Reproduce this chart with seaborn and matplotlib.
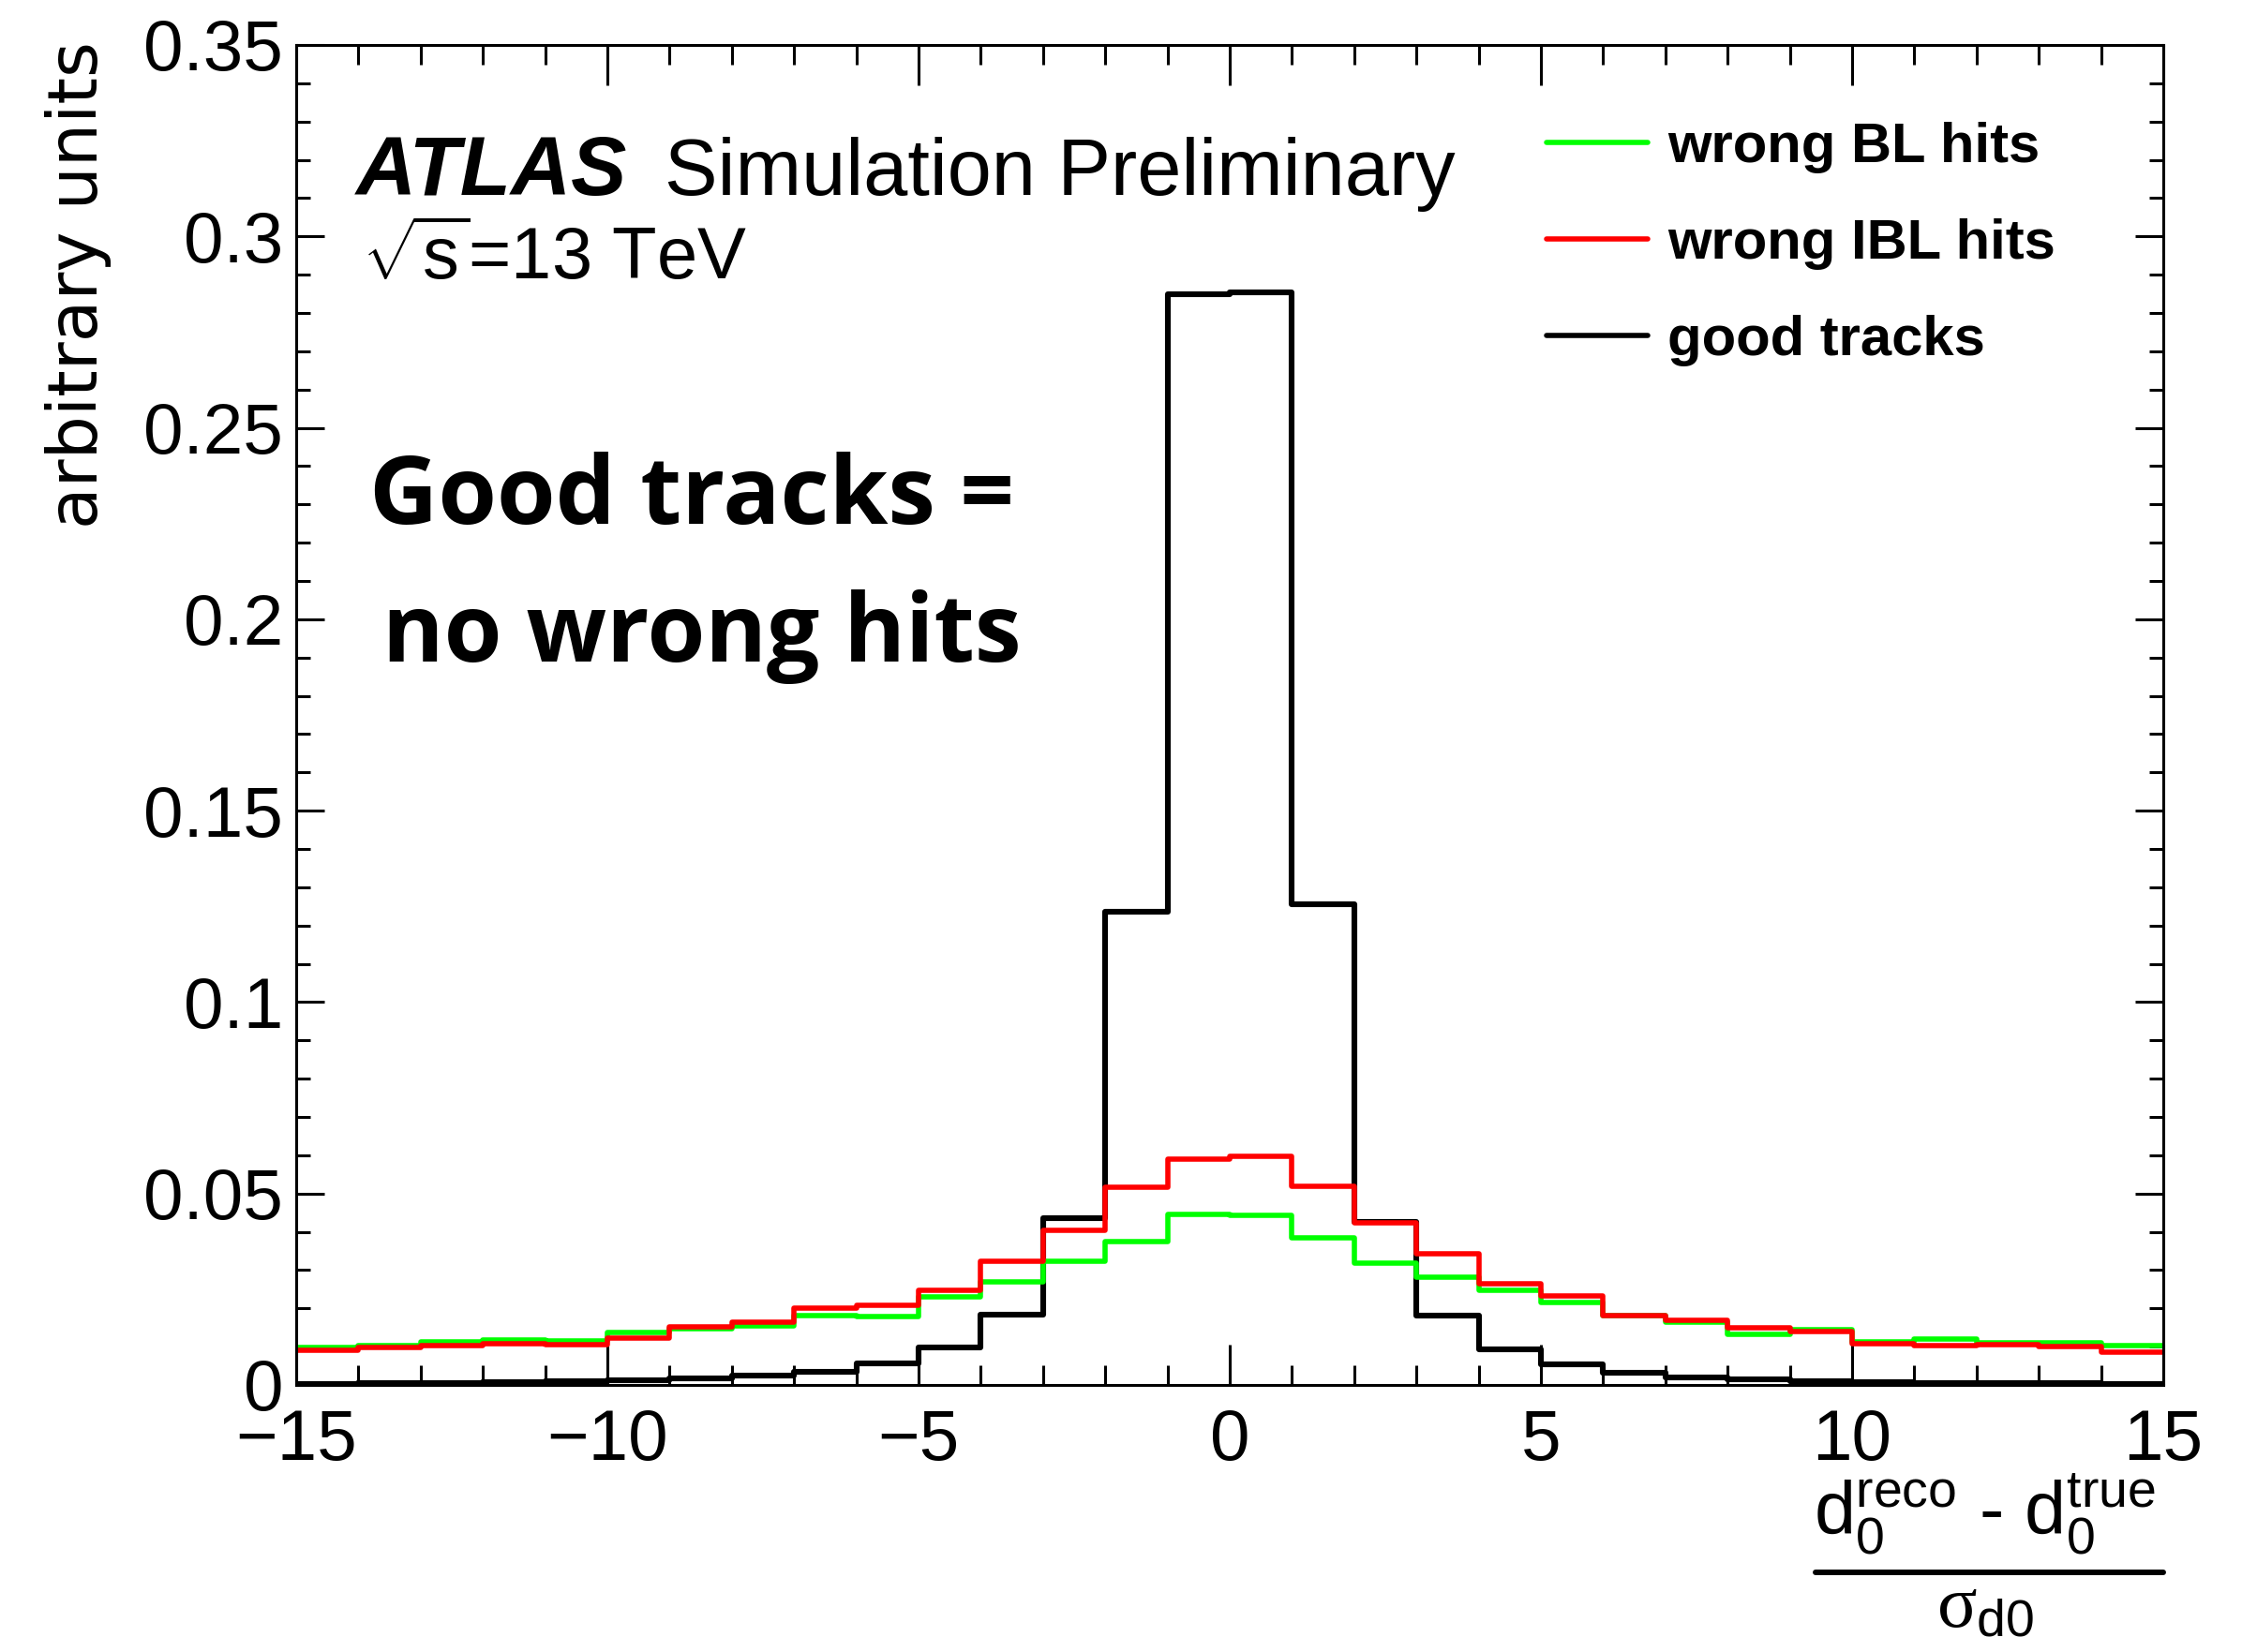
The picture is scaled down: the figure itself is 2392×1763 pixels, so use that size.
import numpy as np
import pandas as pd
import matplotlib
matplotlib.use("Agg")
import matplotlib.pyplot as plt
from matplotlib.ticker import MultipleLocator, FixedLocator, FixedFormatter
from matplotlib.lines import Line2D
import seaborn as sns

# Histogram binning: unit-width bins of the d0 pull
bin_edges = list(range(-15, 16))

# Normalised bin contents (30 bins, from -15 to 15)
good_tracks = [0.0003, 0.0004, 0.0005, 0.0007, 0.0009, 0.0013, 0.0018, 0.0025, 0.0035, 0.0057,
               0.0098, 0.0184, 0.0436, 0.1237, 0.2849,
               0.2855, 0.1255, 0.0426, 0.0182, 0.0094, 0.0055, 0.0033, 0.0020, 0.0015, 0.0011,
               0.0008, 0.0006, 0.0005, 0.0004, 0.0003]
wrong_bl = [0.0098, 0.0103, 0.0113, 0.0118, 0.0114, 0.0137, 0.0147, 0.0153, 0.0182, 0.0179,
            0.0231, 0.0269, 0.0324, 0.0375, 0.0446,
            0.0442, 0.0384, 0.0318, 0.0282, 0.0246, 0.0216, 0.0180, 0.0165, 0.0131, 0.0145,
            0.0112, 0.0121, 0.0110, 0.0111, 0.0103]
wrong_ibl = [0.0091, 0.0098, 0.0103, 0.0107, 0.0106, 0.0122, 0.0151, 0.0164, 0.0200, 0.0208,
             0.0247, 0.0323, 0.0403, 0.0516, 0.0589,
             0.0597, 0.0520, 0.0423, 0.0342, 0.0265, 0.0232, 0.0182, 0.0169, 0.0149, 0.0139,
             0.0107, 0.0104, 0.0106, 0.0100, 0.0085]

series_labels = ["wrong BL hits", "wrong IBL hits", "good tracks"]

x_tick_values = [-15, -10, -5, 0, 5, 10, 15]
x_tick_labels = ["\u221215", "\u221210", "\u22125", "0", "5", "10", "15"]
y_tick_values = [0, 0.05, 0.1, 0.15, 0.2, 0.25, 0.3, 0.35]
y_tick_labels = ["0", "0.05", "0.1", "0.15", "0.2", "0.25", "0.3", "0.35"]

sns.set_style("ticks")
plt.rcParams["font.family"] = ["Liberation Sans", "DejaVu Sans"]
plt.rcParams["text.color"] = "black"
plt.rcParams["axes.labelcolor"] = "black"
plt.rcParams["xtick.color"] = "black"
plt.rcParams["ytick.color"] = "black"
plt.rcParams["axes.edgecolor"] = "black"
plt.rcParams["mathtext.fontset"] = "custom"
plt.rcParams["mathtext.rm"] = "Liberation Sans"
plt.rcParams["mathtext.it"] = "Liberation Serif"
plt.rcParams["mathtext.bf"] = "Liberation Sans:bold"

W, H = 2392, 1763
fig = plt.figure(figsize=(W / 100, H / 100), dpi=100)
ax = fig.add_axes([316 / W, 1 - 1478 / H, (2308 - 316) / W, (1478 - 48) / H])

edges = np.asarray(bin_edges, dtype=float)
centers = 0.5 * (edges[:-1] + edges[1:])
hist_df = pd.DataFrame({"pull": centers, "good": good_tracks,
                        "bl": wrong_bl, "ibl": wrong_ibl})
styles = [("good", "black", 4.4), ("bl", "#00ff00", 4.0), ("ibl", "#ff0000", 4.0)]
for col, color, lw in styles:
    sns.histplot(data=hist_df, x="pull", weights=col, bins=bin_edges, element="step",
                 fill=False, color=color, linewidth=lw, ax=ax)

ax.set_xlim(-15, 15)
ax.set_ylim(0, 0.35)
ax.set_xlabel("")
ax.set_ylabel("")

for s in ax.spines.values():
    s.set_linewidth(2.2)
    s.set_color("black")

ax.xaxis.set_major_locator(FixedLocator(x_tick_values))
ax.xaxis.set_major_formatter(FixedFormatter(x_tick_labels))
ax.xaxis.set_minor_locator(MultipleLocator(1))
ax.yaxis.set_major_locator(FixedLocator(y_tick_values))
ax.yaxis.set_major_formatter(FixedFormatter(y_tick_labels))
ax.yaxis.set_minor_locator(MultipleLocator(0.01))

ax.tick_params(axis="both", which="both", direction="in", top=True, right=True,
               width=2.2, color="black", labelcolor="black")
ax.tick_params(axis="x", which="major", length=31, pad=18, labelsize=55)
ax.tick_params(axis="x", which="minor", length=15)
ax.tick_params(axis="y", which="major", length=21.5, pad=10, labelsize=55)
ax.tick_params(axis="y", which="minor", length=11)

# Legend: green, red, black
handles = [Line2D([], [], color=c, linewidth=4.0) for c in ["#00ff00", "#ff0000", "black"]]
fig.legend(handles, series_labels, loc="upper left",
           bbox_to_anchor=(1650 / W, 1 - 130 / H), frameon=False,
           prop={"family": "Liberation Sans", "weight": "bold", "size": 43},
           handlelength=1.8, handletextpad=0.36, labelspacing=0.8,
           borderpad=0, borderaxespad=0)

# Y axis title
fig.text(84 / W, 1 - 44 / H, "arbitrary units", rotation=90, ha="center", va="top",
         fontsize=52.5, family="DejaVu Sans")

# Experiment label
fig.text(380 / W, 1 - 208 / H, "ATLAS", fontsize=64, weight="bold", style="italic",
         ha="left", va="baseline")
fig.text(709 / W, 1 - 208 / H, "Simulation Preliminary", fontsize=61,
         ha="left", va="baseline")
fig.text(386 / W, 1 - 299 / H, r"$\sqrt{\mathregular{s}}$=13 TeV", fontsize=56,
         ha="left", va="baseline")

# Annotation
fig.text(394 / W, 1 - 559 / H, "Good tracks =", fontsize=73, weight="bold",
         family="Open Sans", ha="left", va="baseline")
fig.text(408 / W, 1 - 706 / H, "no wrong hits", fontsize=72, weight="bold",
         family="Open Sans", ha="left", va="baseline")

# X axis title drawn as a fraction
fig.text(1935 / W, 1 - 1638 / H,
         r"$\mathregular{d_{0}^{reco}}$ - $\mathregular{d_{0}^{true}}$",
         fontsize=57, ha="left", va="baseline")
fig.add_artist(Line2D([1937 / W, 2308 / W], [1 - 1678 / H, 1 - 1678 / H],
                      transform=fig.transFigure, color="black", linewidth=4.3))
fig.text(2066 / W, 1 - 1737 / H, r"$\sigma_{\mathregular{d0}}$",
         fontsize=57, ha="left", va="baseline")

fig.savefig("out.png", dpi=100)
